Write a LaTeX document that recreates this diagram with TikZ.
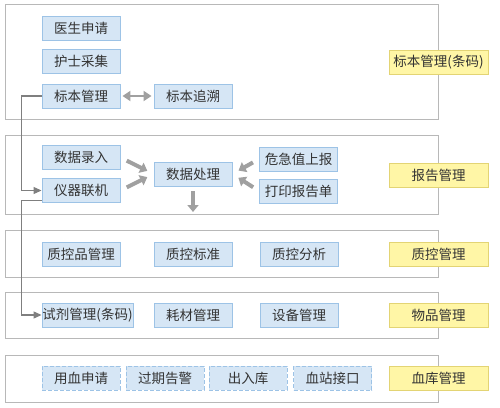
\documentclass[tikz,border=0pt]{standalone}
\usepackage{fontspec}
\setmainfont{Noto Sans CJK SC}
\usetikzlibrary{arrows,arrows.meta}
\definecolor{boxblue}{HTML}{D6E6F5}
\definecolor{lineblue}{HTML}{9DC3E6}
\definecolor{boxyellow}{HTML}{FFF6A6}
\definecolor{lineyellow}{HTML}{E3D474}
\definecolor{panelgray}{HTML}{B8B8B8}
\definecolor{arrowgray}{HTML}{A0A0A0}
\definecolor{wiregray}{HTML}{7F7F7F}
\definecolor{txtgray}{HTML}{333333}

\begin{document}
\begin{tikzpicture}[x=1pt,y=-1pt,>=stealth',
        item/.style={rectangle,draw=lineblue,fill=boxblue,line width=0.9pt,
          minimum width=78pt,minimum height=24pt,inner sep=0pt,
          font=\fontsize{13.5}{13.5}\selectfont,text=txtgray},
        dashitem/.style={item,dash pattern=on 4pt off 2pt},
        module/.style={item,draw=lineyellow,fill=boxyellow,minimum width=99pt},
        panel/.style={draw=panelgray,line width=0.9pt},
        wire/.style={-{Triangle[length=8pt,width=7pt]},draw=wiregray,line width=1.1pt},
        fat/.style={-{Triangle[length=7pt,width=11pt]},draw=arrowgray,line width=4pt,
          shorten <=7pt,shorten >=7pt}]
        \useasboundingbox (0,0) rectangle (500,407);
        % panels
        \draw[panel] (5,4) rectangle (438,119);
        \draw[panel] (5,135) rectangle (438,214);
        \draw[panel] (5,230) rectangle (438,277);
        \draw[panel] (5,292) rectangle (438,338);
        \draw[panel] (5,355) rectangle (438,402);
        % specimen
        \node[item] (doc) at (81,28) {医生申请};
        \node[item] (nurse) at (81,61.5) {护士采集};
        \node[item] (spec) at (81,96) {标本管理};
        \node[item] (trace) at (193,96) {标本追溯};
        \node[module] (m1) at (438.5,62) {标本管理(条码)};
        % report
        \node[item] (entry) at (81,157.5) {数据录入};
        \node[item] (inst) at (81,190.5) {仪器联机};
        \node[item] (proc) at (193,174) {数据处理};
        \node[item] (crit) at (298.5,159) {危急值上报};
        \node[item] (print) at (298.5,191) {打印报告单};
        \node[module] (m2) at (438.5,175.5) {报告管理};
        \coordinate (out) at (193,212);
        % quality
        \node[item] (qcm) at (81,254) {质控品管理};
        \node[item] (qcs) at (193,254) {质控标准};
        \node[item] (qca) at (299,254) {质控分析};
        \node[module] (m3) at (438.5,254) {质控管理};
        % goods
        \node[item,minimum width=91pt] (reag) at (87.5,315) {试剂管理(条码)};
        \node[item] (cons) at (193,315) {耗材管理};
        \node[item] (equip) at (299,315) {设备管理};
        \node[module] (m4) at (438.5,315) {物品管理};
        % blood bank
        \node[dashitem] (req) at (81,378) {用血申请};
        \node[dashitem] (exp) at (165,378) {过期告警};
        \node[dashitem] (io) at (248,378) {出入库};
        \node[dashitem] (stn) at (332.5,378) {血站接口};
        \node[module] (m5) at (438.5,378) {血库管理};
        % connectors
        \draw[{Triangle[length=8pt,width=10pt]}-{Triangle[length=8pt,width=10pt]},
          draw=arrowgray,line width=2.4pt,shorten <=2pt,shorten >=2pt] (spec) -- (trace);
        \draw[wire] (spec.west) -- ++(-20,0) |- (inst.west);
        \draw[wire] ([yshift=-10pt]inst.west) -- ++(-20,0) |- (reag.west);
        \draw[fat] (entry.east) -- (proc.west);
        \draw[fat] (inst.east) -- (proc.west);
        \draw[fat] (crit.west) -- (proc.east);
        \draw[fat] (print.west) -- (proc.east);
        \draw[fat,shorten <=5pt,shorten >=0pt] (proc.south) -- (out);
\end{tikzpicture}
\end{document}
